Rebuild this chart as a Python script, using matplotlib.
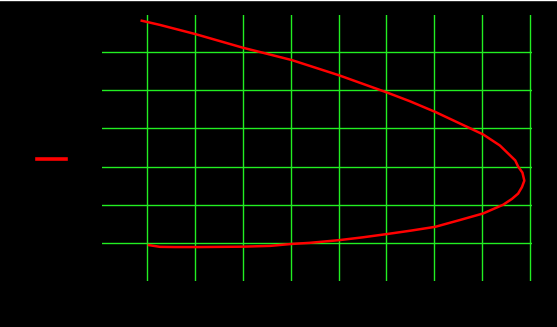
import matplotlib
matplotlib.use("Agg")
import matplotlib.pyplot as plt
from matplotlib.lines import Line2D

# curve (grid units)
xs = [-0.11, 0.27, 1.01, 2.01, 2.36, 3.02, 4.01, 5.01, 5.49, 6.02, 6.75,
      7.02, 7.37, 7.69, 7.75, 7.84, 7.88, 7.83, 7.75, 7.62, 7.44, 7.02, 6.54,
      6.02, 5.51, 5.01, 4.51, 4.01, 3.40, 3.01, 2.57, 2.01, 1.11, 0.58, 0.27, 0.04]
ys = [5.82, 5.71, 5.47, 5.11, 5.00, 4.79, 4.39, 3.94, 3.71, 3.43, 3.00,
      2.84, 2.55, 2.16, 2.00, 1.84, 1.63, 1.46, 1.29, 1.15, 1.00, 0.77, 0.60,
      0.42, 0.32, 0.23, 0.145, 0.07, 0.00, -0.03, -0.08, -0.10, -0.11, -0.11, -0.105, -0.06]

x_ticks = [0, 1, 2, 3, 4, 5, 6, 7, 8]
y_ticks = [0, 1, 2, 3, 4, 5]

fig = plt.figure(figsize=(5.57, 3.27), dpi=100, facecolor="black")
ax = fig.add_axes([102 / 557, 1 - 281 / 327, (532 - 102) / 557, (281 - 15) / 327])
ax.set_facecolor("black")

ax.plot(xs, ys, color="red", lw=1.8, label="y")

ax.set_xlim(-0.94, 8.04)
ax.set_ylim(-1.0, 5.97)
ax.set_xticks(x_ticks)
ax.set_yticks(y_ticks)
ax.grid(True, color="#22ee22", lw=1.0)
ax.tick_params(colors="black", length=0, labelcolor="black")
for s in ax.spines.values():
    s.set_visible(False)

leg = fig.legend(loc="center left", bbox_to_anchor=(37 / 557, 1 - 160 / 327),
                 frameon=False, borderpad=0, borderaxespad=0, handlelength=2.1,
                 handletextpad=0.3)
for t in leg.get_texts():
    t.set_color("black")
for h in leg.get_lines():
    h.set_linewidth(2.6)

# thin white strip along the top edge
fig.add_artist(Line2D([0, 1], [0.9985, 0.9985], color="white", lw=1,
                      transform=fig.transFigure))

fig.savefig("out.png", dpi=100, facecolor="black")
